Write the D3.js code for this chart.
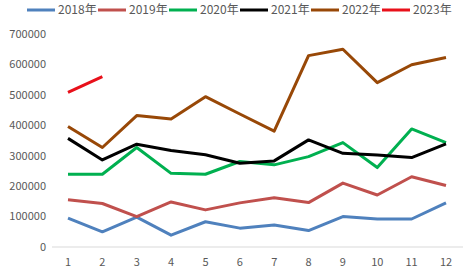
<!DOCTYPE html>
<html>
<head>
<meta charset="utf-8">
<script src="https://d3js.org/d3.v7.min.js"></script>
<style>
  body { margin: 0; background: #fff; }
  text { font-family: "Noto Sans CJK SC", "Noto Sans", sans-serif; }
</style>
</head>
<body>
<script>
// months on the x axis
var months = [1, 2, 3, 4, 5, 6, 7, 8, 9, 10, 11, 12];
var years = ["2018年", "2019年", "2020年", "2021年", "2022年", "2023年"];
var yTicks = [0, 100000, 200000, 300000, 400000, 500000, 600000, 700000];

var v2018 = [95000, 50000, 98000, 39000, 83000, 62000, 72000, 54000, 100000, 92000, 92000, 145000];
var v2019 = [155000, 143000, 100000, 148000, 122000, 145000, 162000, 146000, 210000, 171000, 231000, 202000];
var v2020 = [239000, 239000, 327000, 242000, 239000, 281000, 270000, 297000, 343000, 261000, 388000, 343000];
var v2021 = [357000, 286000, 338000, 317000, 303000, 275000, 283000, 352000, 308000, 302000, 294000, 339000];
var v2022 = [396000, 327000, 432000, 421000, 494000, 437000, 381000, 629000, 650000, 540000, 599000, 623000];
var v2023 = [508000, 560000];

var colors = ["#4F81BD", "#C0504D", "#00B050", "#000000", "#984807", "#E8101A"];
var allSeries = [v2018, v2019, v2020, v2021, v2022, v2023];

var svgWidth = 473;
var svgHeight = 274;

var margin = { top: 34, right: 10, bottom: 27, left: 52 };

var svg = d3.select("body")
  .append("svg")
  .attr("width", svgWidth)
  .attr("height", svgHeight);

var xScale = d3.scalePoint()
  .domain(months)
  .range([68, 446]);

var yScale = d3.scaleLinear()
  .domain([0, 700000])
  .range([247, 34]);

// bottom axis line
svg.append("line")
  .attr("x1", 52)
  .attr("x2", 463)
  .attr("y1", yScale(0))
  .attr("y2", yScale(0))
  .attr("stroke", "#D9D9D9")
  .attr("stroke-width", 1);

// y tick labels
svg.selectAll(".ylab")
  .data(yTicks)
  .enter()
  .append("text")
  .attr("x", 46)
  .attr("y", d => yScale(d))
  .attr("dy", "0.35em")
  .attr("text-anchor", "end")
  .attr("font-size", 11)
  .attr("fill", "#595959")
  .text(d => d);

// x tick labels
svg.selectAll(".xlab")
  .data(months)
  .enter()
  .append("text")
  .attr("x", d => xScale(d))
  .attr("y", 262)
  .attr("dy", "0.35em")
  .attr("text-anchor", "middle")
  .attr("font-size", 11)
  .attr("fill", "#595959")
  .text(d => d);

var drawLine = d3.line()
  .x((d, i) => xScale(months[i]))
  .y(d => yScale(d));

allSeries.forEach(function(vals, i) {
  svg.append("path")
    .attr("d", drawLine(vals))
    .attr("fill", "none")
    .attr("stroke", colors[i])
    .attr("stroke-width", 3)
    .attr("stroke-linejoin", "round");
});

// legend
var legend = svg.selectAll(".legend")
  .data(years)
  .enter()
  .append("g")
  .attr("transform", (d, i) => `translate(${27 + i * 71}, 10)`);

legend.append("line")
  .attr("x1", 0)
  .attr("x2", 28)
  .attr("stroke", (d, i) => colors[i])
  .attr("stroke-width", 3);

legend.append("text")
  .attr("x", 31)
  .attr("dy", "0.35em")
  .attr("font-size", 12)
  .attr("fill", "#595959")
  .text(d => d);
</script>
</body>
</html>
